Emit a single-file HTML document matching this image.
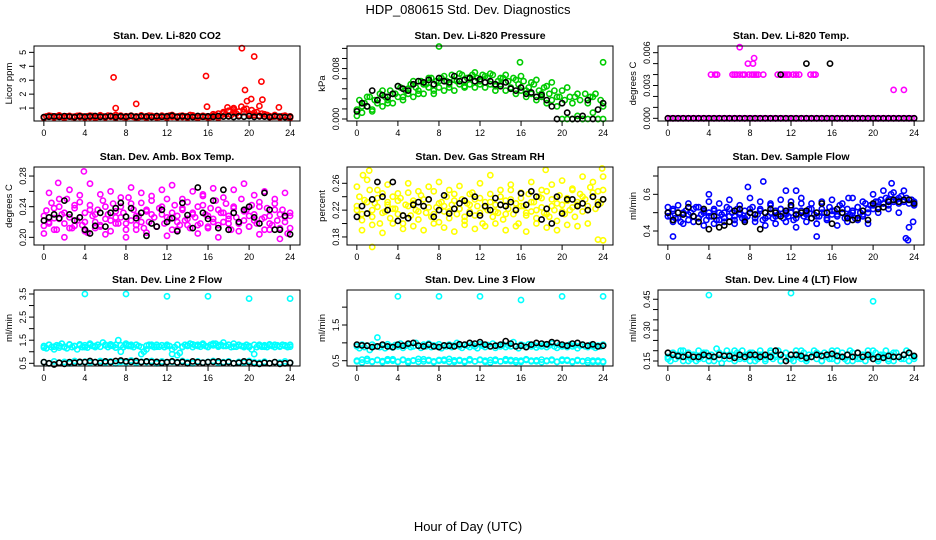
<!DOCTYPE html>
<html><head><meta charset="utf-8"><style>
html,body{margin:0;padding:0;background:#fff;width:936px;height:540px;overflow:hidden}
svg text{font-family:"Liberation Sans",Arial,sans-serif}
</style></head><body>
<svg id="chart" width="936" height="540" viewBox="0 0 936 540" xmlns="http://www.w3.org/2000/svg">
<text x="468" y="14" font-size="13" text-anchor="middle">HDP_080615  Std. Dev. Diagnostics</text>
<text x="468" y="531" font-size="13" text-anchor="middle">Hour of Day (UTC)</text>
</svg>
<script>
const xTicks = [0,4,8,12,16,20,24];

const co2Red = [.35,.4,.38,.42,.36,.4,.45,.38,.35,.4,.42,.37,.39,.44,.36,.4,.38,.41,.35,.43,.39,.37,.42,.4,.36,.45,.38,.4,.5,.42,.38,.36,.41,.39,.44,.37,.4,.35,.42,.38,.41,.46,.37,.39,.43,.36,.4,.38,.42,.45,.37,.4,.39,.43,.36,.41,.38,.5,.4,.37,.42,.39,.44,.38,.41,.36,.43,.5,.6,.45,.7,.55,.8,.5,.9,.6,.75,1.1,.7,.95,.6,.85,.5,.7,.45,.6,.4,.5,.42,.38,.45,.4,.37,.42,.39,.36,.4];
const co2Red2 = [.3,.45,.32,.47,.3,.44,.33,.46,.31,.45,.3,.48,.32,.44,.3,.46,.33,.45,.31,.47,.3,.44,.32,.46,.3,.5,.33,.45,.31,.47,.3,.44,.32,.55,.3,.62,.4,.75,.45,.9,.5,.65,.4,.55,.35,.5,.32,.45,.3];
const co2Black = [.35,.38,.4,.37,.42,.39,.36,.41,.38,.4,.43,.37,.39,.42,.36,.4,.38,.44,.37,.41,.39,.36,.42,.38,.4,.45,.37,.41,.39,.36,.43,.38,.4,.37,.42,.39,.41,.36,.4,.38,.42,.37,.4,.39,.36,.41,.38,.35,.37];
const co2OutT = [6.8,7,9,15.8,15.9,17.9,19.3,19.6,19.8,20.5,21.2,21.3,21,22.9,18.5,20.2];
const co2OutV = [3.2,1.0,1.3,3.3,1.1,1.05,5.3,2.3,1.5,4.7,2.9,1.6,1.15,1.05,1.0,1.65];

const presGreen = [.0015,.003,.001,.0025,.002,.0035,.0015,.003,.0025,.004,.002,.0035,.003,.0045,.0025,.004,.0035,.005,.003,.0045,.004,.0055,.0035,.005,.0045,.006,.004,.0055,.005,.0065,.004,.006,.005,.0065,.0045,.006,.0055,.007,.0045,.006,.0055,.007,.005,.0065,.0055,.007,.005,.0065,.006,.007,.005,.0065,.0055,.007,.0045,.006,.0055,.0065,.0045,.006,.005,.0065,.004,.0055,.0045,.006,.0035,.005,.004,.0055,.003,.0045,.0035,.005,.0025,.004,.003,.0045,.002,.0035,0,.003,0,.0035,0,.0035,.0005,.003,0,.004,0,.0035,.001,.004,0,.003,0];
const presGreen2 = [.0005,.002,.0035,.0012,.003,.0045,.0025,.004,.0052,.0035,.0048,.006,.004,.0055,.0065,.0045,.006,.0068,.005,.0062,.0072,.0052,.0066,.0074,.0055,.0068,.0072,.0052,.0065,.007,.0048,.0062,.0068,.0045,.0058,.0062,.004,.0052,.0058,.0035,.0045,.005,.0025,.004,0,.0025,.0035,0,.002];
const presBlack = [.0012,.0025,.002,.0045,.003,.0038,.0035,.004,.0052,.0048,.0045,.0055,.006,.0058,.0062,.0055,.0065,.006,.0058,.0068,.006,.0062,.0065,.006,.0063,.0058,.006,.0055,.0052,.0058,.0048,.0045,.005,.004,.0042,.0035,.0038,.003,.002,0,.0025,.001,0,0,.0005,.003,0,.0015,.0025];
const presOutT = [8,15.9,24];
const presOutV = [.0115,.009,.009];

const tempMag = new Array(97).fill(0);
const tempClusterT = [4.2,4.6,4.8,6.3,6.5,6.7,7.0,7.3,7.5,7.9,8.2,8.4,8.6,8.8,9.3,10.7,11.2,11.4,11.6,11.8,12.2,12.5,12.8,13.9,14.2,14.4,7,8.4,8.3,7.8,22,23];
const tempClusterV = [.004,.004,.004,.004,.004,.004,.004,.004,.004,.004,.004,.004,.004,.004,.004,.004,.004,.004,.004,.004,.004,.004,.004,.004,.004,.004,.0065,.0055,.005,.005,.0026,.0026];
const tempBlack = new Array(49).fill(0);
const tempBlackOutT = [11,13.5,15.8];
const tempBlackOutV = [.004,.005,.005];

const ambMag = [.215,.235,.22,.245,.225,.21,.24,.23,.218,.25,.226,.212,.238,.222,.246,.216,.232,.206,.242,.228,.22,.236,.214,.248,.224,.23,.208,.244,.226,.218,.24,.232,.21,.252,.222,.236,.216,.228,.245,.212,.234,.22,.248,.226,.214,.238,.23,.218,.25,.224,.21,.242,.228,.216,.236,.222,.246,.212,.232,.226,.24,.218,.254,.23,.214,.238,.224,.248,.216,.232,.22,.244,.228,.21,.24,.226,.218,.25,.222,.236,.214,.242,.23,.218,.246,.224,.21,.238,.228,.216,.244,.222,.212,.236,.226,.205,.228];
const ambMag2 = [.205,.258,.21,.25,.2,.262,.215,.255,.208,.27,.212,.256,.204,.26,.218,.252,.2,.265,.21,.258,.206,.254,.214,.262,.202,.268,.21,.25,.216,.26,.205,.256,.212,.264,.2,.252,.218,.262,.208,.27,.214,.255,.204,.26,.21,.25,.198,.258,.212];
const ambMag3 = [.228,.218,.238,.224,.232,.212,.242,.226,.22,.236,.23,.216,.24,.222,.234,.226,.218,.244,.228,.22,.236,.23,.214,.24,.226,.232,.22,.238,.224,.23,.216,.242,.228,.22,.236,.232,.224,.238,.218,.234,.228,.222,.24,.226,.218,.236,.23,.22,.232];
const ambBlack = [.222,.226,.23,.225,.248,.23,.222,.226,.21,.205,.215,.232,.214,.232,.238,.245,.227,.238,.225,.232,.202,.218,.214,.236,.22,.225,.208,.245,.229,.212,.265,.232,.224,.248,.212,.262,.21,.232,.22,.236,.24,.226,.218,.258,.236,.21,.21,.228,.204];
const ambOutT = [3.9,1.4];
const ambOutV = [.286,.271];

const rhYel = [.22,.24,.205,.235,.215,.25,.21,.23,.225,.2,.245,.218,.232,.208,.24,.222,.214,.238,.2,.228,.246,.212,.234,.22,.206,.242,.226,.216,.236,.21,.248,.224,.202,.232,.218,.24,.208,.228,.244,.214,.222,.236,.204,.23,.218,.246,.212,.226,.238,.2,.232,.22,.244,.21,.228,.216,.24,.206,.234,.222,.25,.214,.23,.2,.238,.226,.212,.244,.218,.232,.208,.24,.224,.216,.248,.21,.236,.22,.204,.242,.228,.214,.238,.22,.25,.21,.232,.244,.218,.236,.226,.254,.24,.222,.248,.23,.236];
const rhYel2 = [.255,.19,.265,.198,.25,.186,.258,.2,.245,.192,.26,.196,.248,.19,.255,.2,.262,.194,.25,.188,.256,.198,.244,.192,.26,.196,.272,.2,.25,.19,.258,.196,.246,.188,.262,.2,.25,.194,.258,.19,.264,.198,.252,.196,.27,.2,.262,.176,.27];
const rhYel3 = [.226,.214,.232,.22,.238,.216,.228,.222,.234,.212,.226,.23,.218,.236,.224,.214,.23,.226,.218,.234,.222,.21,.228,.236,.216,.224,.232,.218,.228,.214,.236,.222,.226,.216,.232,.22,.238,.214,.226,.23,.218,.234,.224,.228,.24,.22,.246,.232,.25];
const rhBlack = [.21,.226,.215,.236,.262,.24,.22,.262,.204,.212,.208,.228,.232,.226,.236,.21,.22,.242,.215,.222,.23,.234,.215,.24,.212,.226,.22,.238,.228,.226,.232,.22,.245,.228,.248,.24,.206,.222,.2,.24,.215,.236,.236,.226,.23,.22,.24,.228,.236];
const rhOutT = [1.5,1.2,0.6,18.4,23.9,24];
const rhOutV = [.165,.279,.272,.28,.282,.175];

const flowBlue = [.5,.48,.52,.47,.5,.45,.49,.51,.46,.5,.48,.53,.47,.49,.51,.46,.5,.48,.52,.46,.5,.49,.47,.53,.48,.5,.46,.52,.49,.47,.51,.48,.5,.53,.47,.49,.52,.46,.5,.48,.54,.47,.51,.49,.52,.47,.5,.48,.53,.46,.51,.49,.55,.48,.5,.52,.47,.49,.44,.48,.52,.5,.47,.53,.49,.51,.48,.54,.5,.47,.52,.49,.51,.47,.53,.5,.48,.55,.5,.54,.52,.56,.53,.57,.55,.58,.54,.6,.56,.57,.55,.59,.56,.58,.55,.57,.54];
const flowBlue2 = [.53,.45,.54,.44,.55,.45,.53,.43,.56,.44,.55,.45,.57,.44,.54,.46,.58,.45,.56,.43,.55,.44,.57,.45,.56,.42,.58,.45,.55,.44,.56,.46,.57,.43,.55,.45,.58,.46,.56,.44,.6,.5,.62,.52,.61,.5,.62,.42,.56];
const flowBlue3 = [.48,.51,.47,.5,.49,.52,.47,.5,.48,.51,.46,.5,.52,.48,.5,.47,.52,.49,.51,.47,.5,.48,.52,.49,.5,.47,.51,.49,.52,.48,.5,.47,.51,.49,.52,.48,.5,.53,.49,.52,.54,.56,.55,.57,.56,.58,.56,.57,.55];
const flowBlack = [.5,.46,.5,.49,.53,.48,.45,.52,.41,.48,.42,.43,.45,.51,.52,.45,.5,.49,.41,.5,.52,.5,.48,.51,.54,.49,.5,.51,.47,.5,.55,.5,.44,.52,.5,.47,.46,.47,.51,.46,.55,.52,.53,.56,.57,.56,.57,.57,.55];
const flowOutT = [0.5,4,7.8,9.3,11.5,12.5,14.5,17.6,21.8,23.2,23.4,23.9];
const flowOutV = [.37,.6,.64,.67,.62,.62,.37,.58,.66,.36,.35,.45];

const l2Cyan = [1.25,1.15,1.3,1.2,1.1,1.28,1.18,1.35,1.22,1.15,1.3,1.2,1.25,1.1,1.32,1.2,1.28,1.18,1.35,1.25,1.2,1.3,1.22,1.4,1.28,1.2,1.32,1.25,1.3,1.5,1.28,1.2,1.35,1.25,1.3,1.2,1.3,1.25,0.9,1.0,1.1,1.3,1.25,1.2,1.3,1.22,1.28,1.2,1.3,1.25,1.1,1.2,0.85,0.95,1.2,1.3,1.25,1.35,1.2,1.28,1.3,1.22,1.35,1.25,1.2,1.3,1.28,1.35,1.22,1.3,1.4,1.25,1.3,1.2,1.35,1.22,1.3,1.25,1.2,1.3,1.25,1.1,0.9,1.2,1.3,1.22,1.28,1.2,1.32,1.25,1.2,1.28,1.22,1.3,1.25,1.2,1.3];
const l2Cyan2 = [.55,.5,.58,.52,.56,.5,.6,.54,.57,.52,.55,.6,.53,.58,.5,.56,.54,.62,.52,.57,.55,.6,.5,.58,.54,.56,.52,.6,.55,.5,.58,.53,.56,.6,.52,.55,.58,.5,.56,.53,.6,.55,.52,.57,.5,.55,.53,.58,.52];
const l2Cyan3 = [1.18,1.3,1.22,1.26,1.2,1.32,1.24,1.28,1.2,1.3,1.25,1.22,1.3,1.26,1.18,1.0,1.28,1.24,1.3,1.2,1.26,1.3,1.22,1.28,1.25,0.9,1.3,1.22,1.28,1.32,1.25,1.3,1.22,1.35,1.28,1.25,1.3,1.22,1.28,1.25,1.2,1.3,1.26,1.22,1.28,1.3,1.24,1.28,1.22];
const l2Black = [.55,.5,.45,.52,.48,.55,.52,.56,.55,.6,.55,.52,.58,.55,.6,.62,.58,.56,.6,.55,.58,.55,.56,.52,.55,.58,.54,.56,.5,.58,.55,.52,.55,.56,.58,.52,.55,.5,.52,.58,.55,.5,.48,.52,.5,.55,.48,.5,.52];
const l2OutT = [4,8,12,16,20,24];
const l2OutV = [3.5,3.5,3.4,3.4,3.3,3.3];

const l3Cyan = [.9,.85,.95,.88,.92,.8,.95,.9,1.15,.88,.93,.85,.96,.9,.87,.94,.9,.98,.86,.92,.95,.88,.9,1.0,.92,.86,.95,.9,.98,.88,.93,.9,.96,.85,.92,.9,.95,.88,.93,1.0,.9,.86,.94,.92,.88,.95,.9,.85,.96,.92,.88,.94,.9,.98,.86,.92,.9,.95,.88,.93,.9,1.02,.9,.85,.95,.92,.88,.96,.9,.94,.87,.92,.9,.95,.88,.93,.98,.9,.86,.94,.9,.92,.88,.95,.9,.93,.85,.92,.95,.9,.88,.94,.9,.86,.92,.9,.95];
const l3Cyan2 = [.5,.45,.55,.48,.52,.46,.5,.54,.47,.52,.45,.5,.55,.48,.52,.46,.5,.53,.47,.51,.5,.46,.54,.48,.52,.5,.45,.53,.48,.5,.52,.46,.5,.54,.48,.51,.46,.5,.53,.47,.5,.52,.46,.5,.48,.45,.5,.47,.46];
const l3Cyan3 = [.48,.53,.5,.47,.52,.49,.54,.5,.47,.53,.49,.51,.47,.54,.5,.48,.52,.5,.55,.47,.52,.49,.51,.48,.53,.47,.52,.5,.48,.54,.49,.51,.47,.52,.5,.48,.53,.49,.51,.47,.53,.5,.48,.52,.49,.51,.47,.5,.48];
const l3Black = [.95,.93,.92,.88,.9,.95,.9,.88,.95,.92,.98,1.0,.92,.9,.95,.9,.88,.93,.92,.9,.96,.95,1.0,.98,1.02,.95,.9,.92,.95,1.05,.98,.9,.92,.88,.95,1.0,.98,.96,1.02,1.0,.95,.92,.98,1.0,.95,.92,.96,.9,.92];
const l3OutT = [4,8,12,16,20,24];
const l3OutV = [2.3,2.3,2.3,2.2,2.3,2.3];

const l4Cyan = [.17,.15,.19,.16,.18,.2,.15,.17,.19,.16,.18,.15,.2,.17,.16,.19,.15,.18,.17,.21,.16,.14,.18,.2,.16,.18,.15,.19,.17,.2,.16,.18,.15,.19,.17,.16,.2,.18,.15,.17,.19,.16,.18,.2,.15,.17,.19,.16,.18,.15,.2,.17,.16,.19,.15,.18,.17,.2,.16,.18,.15,.19,.17,.16,.2,.18,.15,.17,.19,.16,.18,.2,.15,.17,.19,.16,.18,.15,.2,.17,.16,.19,.15,.18,.17,.2,.16,.18,.15,.19,.17,.16,.18,.2,.15,.17,.16];
const l4Cyan2 = [.16,.19,.17,.2,.15,.18,.16,.19,.17,.15,.19,.16,.18,.2,.16,.17,.19,.15,.18,.16,.2,.17,.15,.19,.16,.18,.2,.16,.17,.19,.15,.18,.16,.2,.17,.15,.19,.16,.18,.17,.2,.16,.18,.15,.19,.17,.16,.19,.17];
const l4Black = [.19,.18,.175,.17,.18,.17,.17,.18,.175,.17,.18,.175,.175,.165,.18,.17,.18,.18,.17,.18,.17,.2,.18,.15,.18,.18,.175,.165,.17,.18,.175,.18,.185,.175,.17,.18,.17,.19,.17,.18,.16,.17,.165,.175,.17,.17,.18,.19,.175];
const l4OutT = [4,12,20];
const l4OutV = [.47,.48,.44];

const yT1=[1,2,3,4,5], yL1=["1","2","3","4","5"];
const yT2=[0,.0016,.0032,.0048,.0064,.008,.0096,.0112], yL2=["0.000","","","","","0.008","",""];
const yT3=[0,.001,.002,.003,.004,.005,.006], yL3=["0.000","","","0.003","","","0.006"];
const yT4=[.2,.22,.24,.26,.28], yL4=["0.20","","0.24","","0.28"];
const yT5=[.18,.2,.22,.24,.26], yL5=["0.18","","0.22","","0.26"];
const yT6=[.4,.5,.6,.7], yL6=["0.4","","0.6",""];
const yT7=[.5,1,1.5,2,2.5,3,3.5], yL7=["0.5","","1.5","","2.5","","3.5"];
const yT8=[.5,1,1.5,2], yL8=["0.5","","1.5",""];
const yT9=[.15,.2,.25,.3,.35,.4,.45], yL9=["0.15","","","0.30","","","0.45"];

const NS="http://www.w3.org/2000/svg";
const svg=document.getElementById('chart');
function mk(tag,attrs,parent){const e=document.createElementNS(NS,tag);for(const k in attrs)e.setAttribute(k,attrs[k]);(parent||svg).appendChild(e);return e;}

const colL=[34,347,658], colW=266;
const rowT=[46,167,290], rowH=[75,78,76];

const panels=[
 {title:"Stan. Dev. Li-820 CO2",yl:"Licor ppm",dom:[0.071,5.457],yt:yT1,ylab:yL1,series:[[co2Red2,'#ff0000'],[co2Red,'#ff0000'],[co2Black,'#000']],out:[[co2OutT,co2OutV,'#ff0000']]},
 {title:"Stan. Dev. Li-820 Pressure",yl:"kPa",dom:[-0.000316,0.01158],yt:yT2,ylab:yL2,series:[[presGreen2,'#00cc00'],[presGreen,'#00cc00'],[presBlack,'#000']],out:[[presOutT,presOutV,'#00cc00']]},
 {title:"Stan. Dev. Li-820 Temp.",yl:"degrees C",dom:[-0.000245,0.00661],yt:yT3,ylab:yL3,series:[[tempMag,'#ff00ff'],[tempBlack,'#000']],out:[[tempClusterT,tempClusterV,'#ff00ff'],[tempBlackOutT,tempBlackOutV,'#000']]},
 {title:"Stan. Dev. Amb. Box Temp.",yl:"degrees C",dom:[0.190,0.2918],yt:yT4,ylab:yL4,series:[[ambMag2,'#ff00ff'],[ambMag,'#ff00ff'],[ambMag3,'#ff00ff'],[ambBlack,'#000']],out:[[ambOutT,ambOutV,'#ff00ff']]},
 {title:"Stan. Dev. Gas Stream RH",yl:"percent",dom:[0.168,0.2843],yt:yT5,ylab:yL5,series:[[rhYel2,'#ffff00'],[rhYel,'#ffff00'],[rhYel3,'#ffff00'],[rhBlack,'#000']],out:[[rhOutT,rhOutV,'#ffff00']]},
 {title:"Stan. Dev. Sample Flow",yl:"ml/min",dom:[0.3237,0.749],yt:yT6,ylab:yL6,series:[[flowBlue2,'#0000ff'],[flowBlue,'#0000ff'],[flowBlue3,'#0000ff'],[flowBlack,'#000']],out:[[flowOutT,flowOutV,'#0000ff']]},
 {title:"Stan. Dev. Line 2 Flow",yl:"ml/min",dom:[0.383,3.673],yt:yT7,ylab:yL7,series:[[l2Cyan,'#00ffff'],[l2Cyan3,'#00ffff'],[l2Cyan2,'#00ffff'],[l2Black,'#000']],out:[[l2OutT,l2OutV,'#00ffff']]},
 {title:"Stan. Dev. Line 3 Flow",yl:"ml/min",dom:[0.352,2.48],yt:yT8,ylab:yL8,series:[[l3Cyan,'#00ffff'],[l3Cyan2,'#00ffff'],[l3Cyan3,'#00ffff'],[l3Black,'#000']],out:[[l3OutT,l3OutV,'#00ffff']]},
 {title:"Stan. Dev. Line 4 (LT) Flow",yl:"ml/min",dom:[0.1257,0.495],yt:yT9,ylab:yL9,series:[[l4Cyan,'#00ffff'],[l4Cyan2,'#00ffff'],[l4Black,'#000']],out:[[l4OutT,l4OutV,'#00ffff']]}
];

panels.forEach((p,i)=>{
 const L=colL[i%3], T=rowT[Math.floor(i/3)], H=rowH[Math.floor(i/3)], W=colW;
 const g=mk('g',{});
 
 
 const xs=t=>L+(t+0.96)/25.92*W;
 const ys=v=>T+H-(v-p.dom[0])/(p.dom[1]-p.dom[0])*H;
 const tt=mk('text',{x:L+W/2,y:T-7,'font-size':10.5,'font-weight':'bold','text-anchor':'middle'},g);
 tt.textContent=p.title;
 
 
 const pts=mk('g',{fill:'none','stroke-width':1.6},g);
 
 
 p.series.forEach(([arr,col])=>{
  const n=arr.length;
  arr.forEach((v,k)=>{
   const c=mk('circle',{cx:xs(k*24/(n-1)).toFixed(1),cy:ys(v).toFixed(1),r:2.6,stroke:col},pts);
   
   
  });
 });
 p.out.forEach(([ts,vs,col])=>{
  ts.forEach((t,k)=>{
   const c=mk('circle',{cx:xs(t).toFixed(1),cy:ys(vs[k]).toFixed(1),r:2.6,stroke:col},pts);
   
   
  });
 });
 const fr=mk('rect',{x:L,y:T,width:W,height:H,fill:'none',stroke:'#000','stroke-width':1},g);
 
 
 xTicks.forEach(t=>{
  const x=xs(t);
  mk('line',{x1:x,x2:x,y1:T+H,y2:T+H+5,stroke:'#000'},g);
  const lb=mk('text',{x:x,y:T+H+15,'font-size':9,'text-anchor':'middle'},g);
  lb.textContent=t;
  
  
 });
 p.yt.forEach((v,k)=>{
  const y=ys(v);
  mk('line',{x1:L-5,x2:L,y1:y,y2:y,stroke:'#000'},g);
  if(p.ylab[k]){
   const lb=mk('text',{x:L-8,y:y,'font-size':9,'text-anchor':'middle',transform:`rotate(-90 ${L-8} ${y})`},g);
   lb.textContent=p.ylab[k];
   
   
  }
 });
 const yx=L-22, yy=T+H/2;
 const yt=mk('text',{x:yx,y:yy,'font-size':9.5,'text-anchor':'middle',transform:`rotate(-90 ${yx} ${yy})`},g);
 yt.textContent=p.yl;
 
 
});
</script>
</body></html>
